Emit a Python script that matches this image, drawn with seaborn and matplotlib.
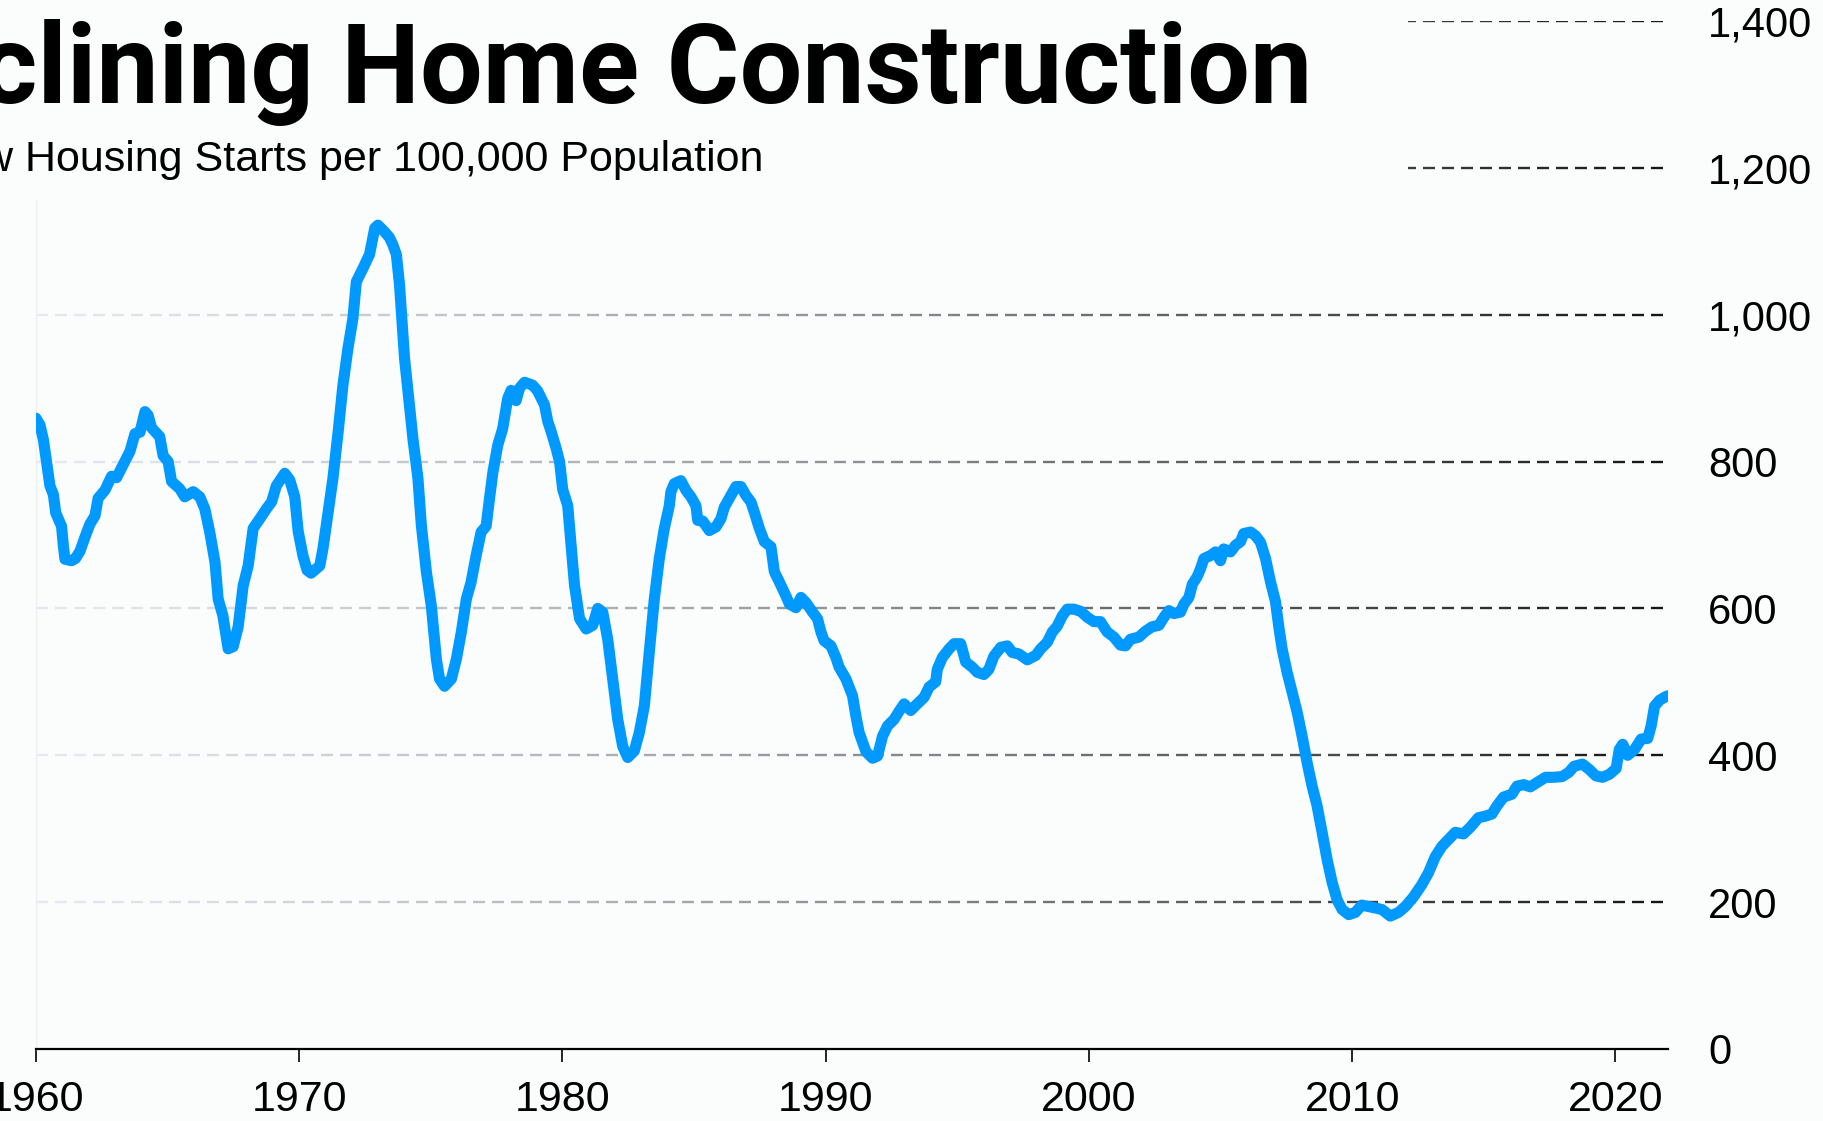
import numpy as np
import pandas as pd
import matplotlib
matplotlib.use("Agg")
import matplotlib.pyplot as plt
from matplotlib.collections import LineCollection
from matplotlib.patches import Rectangle
from matplotlib.ticker import StrMethodFormatter
import matplotlib.colors as mcolors
import seaborn as sns

# housing starts per 100k population
years = [
    1960.00, 1960.15, 1960.28, 1960.40, 1960.53, 1960.66, 1960.75, 1960.97, 1961.04, 1961.10,
    1961.35, 1961.50, 1961.67, 1961.86, 1962.05, 1962.24, 1962.36, 1962.62, 1962.87, 1963.06,
    1963.30, 1963.57, 1963.76, 1963.95, 1964.14, 1964.26, 1964.39, 1964.70, 1964.83, 1965.02,
    1965.15, 1965.46, 1965.65, 1965.97, 1966.22, 1966.41, 1966.60, 1966.80, 1966.92, 1967.10,
    1967.30, 1967.49, 1967.68, 1967.87, 1968.06, 1968.25, 1968.50, 1968.76, 1968.95, 1969.13,
    1969.45, 1969.64, 1969.83, 1969.96, 1970.14, 1970.30, 1970.45, 1970.78, 1970.90, 1971.10,
    1971.28, 1971.48, 1971.66, 1971.85, 1972.04, 1972.17, 1972.42, 1972.67, 1972.87, 1972.99,
    1973.24, 1973.43, 1973.56, 1973.69, 1973.81, 1974.00, 1974.13, 1974.32, 1974.51, 1974.64,
    1974.83, 1975.02, 1975.21, 1975.33, 1975.52, 1975.78, 1975.97, 1976.16, 1976.35, 1976.53,
    1976.72, 1976.91, 1977.10, 1977.23, 1977.36, 1977.54, 1977.73, 1977.92, 1978.05, 1978.24,
    1978.37, 1978.56, 1978.87, 1979.06, 1979.32, 1979.44, 1979.57, 1979.76, 1979.89, 1980.01,
    1980.20, 1980.33, 1980.46, 1980.65, 1980.90, 1981.15, 1981.34, 1981.53, 1981.72, 1981.91,
    1982.10, 1982.29, 1982.48, 1982.73, 1982.92, 1983.11, 1983.30, 1983.49, 1983.68, 1983.87,
    1984.06, 1984.12, 1984.25, 1984.50, 1984.69, 1984.88, 1985.07, 1985.14, 1985.33, 1985.58,
    1985.83, 1986.02, 1986.15, 1986.34, 1986.59, 1986.78, 1986.97, 1987.16, 1987.29, 1987.48,
    1987.67, 1987.92, 1988.05, 1988.24, 1988.49, 1988.62, 1988.87, 1989.06, 1989.25, 1989.50,
    1989.69, 1989.82, 1989.94, 1990.20, 1990.39, 1990.51, 1990.77, 1991.02, 1991.15, 1991.27,
    1991.53, 1991.78, 1991.97, 1992.16, 1992.35, 1992.60, 1992.79, 1992.98, 1993.23, 1993.48,
    1993.74, 1993.93, 1994.18, 1994.24, 1994.43, 1994.69, 1994.88, 1995.13, 1995.32, 1995.57,
    1995.76, 1996.01, 1996.20, 1996.39, 1996.65, 1996.90, 1997.09, 1997.34, 1997.66, 1997.98,
    1998.17, 1998.42, 1998.61, 1998.80, 1998.99, 1999.18, 1999.43, 1999.69, 1999.94, 2000.19,
    2000.44, 2000.69, 2000.95, 2001.20, 2001.39, 2001.58, 2001.90, 2002.15, 2002.40, 2002.66,
    2002.85, 2003.04, 2003.23, 2003.48, 2003.61, 2003.80, 2003.93, 2004.11, 2004.24, 2004.37,
    2004.62, 2004.81, 2005.00, 2005.12, 2005.38, 2005.57, 2005.76, 2005.88, 2006.14, 2006.33,
    2006.52, 2006.71, 2006.90, 2007.09, 2007.21, 2007.34, 2007.53, 2007.72, 2007.91, 2008.10,
    2008.29, 2008.48, 2008.67, 2008.86, 2009.05, 2009.24, 2009.43, 2009.62, 2009.87, 2010.12,
    2010.37, 2010.75, 2011.13, 2011.45, 2011.76, 2012.02, 2012.33, 2012.65, 2012.90, 2013.16,
    2013.41, 2013.73, 2013.92, 2014.23, 2014.49, 2014.80, 2015.05, 2015.31, 2015.50, 2015.75,
    2016.07, 2016.26, 2016.52, 2016.77, 2017.03, 2017.35, 2017.66, 2017.98, 2018.24, 2018.43,
    2018.75, 2019.00, 2019.26, 2019.51, 2019.77, 2020.03, 2020.15, 2020.28, 2020.47, 2020.73,
    2020.98, 2021.23, 2021.36, 2021.49, 2021.68, 2021.87, 2021.99,
]
starts = [
    859, 850, 830, 800, 767, 755, 730, 712, 685, 667,
    665, 668, 678, 697, 715, 726, 750, 761, 780, 778,
    795, 814, 838, 840, 868, 863, 846, 834, 808, 800,
    773, 763, 752, 759, 752, 736, 704, 663, 613, 590,
    545, 548, 575, 631, 658, 709, 722, 736, 745, 767,
    784, 775, 752, 705, 672, 652, 648, 658, 681, 731,
    777, 841, 904, 954, 995, 1045, 1063, 1082, 1118, 1122,
    1113, 1105, 1095, 1082, 1041, 941, 896, 831, 777, 713,
    650, 603, 531, 504, 494, 504, 531, 568, 613, 636,
    672, 704, 712, 750, 786, 822, 845, 886, 897, 883,
    900, 908, 904, 896, 877, 855, 841, 818, 800, 762,
    740, 685, 631, 586, 572, 577, 600, 595, 558, 504,
    449, 412, 397, 406, 431, 467, 541, 613, 668, 709,
    740, 759, 770, 774, 761, 752, 740, 720, 719, 706,
    711, 722, 738, 750, 766, 766, 754, 745, 731, 709,
    691, 684, 650, 636, 617, 606, 601, 615, 608, 595,
    586, 568, 556, 549, 533, 520, 504, 481, 453, 431,
    405, 396, 399, 426, 440, 449, 460, 470, 461, 470,
    479, 493, 500, 517, 533, 545, 552, 552, 527, 520,
    513, 510, 517, 535, 547, 549, 540, 538, 530, 536,
    545, 554, 568, 576, 590, 599, 599, 596, 588, 582,
    582, 568, 561, 550, 549, 558, 561, 569, 575, 577,
    588, 597, 593, 595, 606, 615, 633, 643, 654, 668,
    672, 677, 665, 681, 677, 686, 691, 702, 704, 699,
    690, 668, 636, 609, 576, 545, 513, 486, 459, 426,
    390, 358, 331, 295, 258, 227, 203, 190, 183, 186,
    196, 193, 190, 181, 186, 194, 207, 224, 240, 262,
    276, 288, 295, 293, 302, 315, 317, 320, 331, 343,
    347, 358, 360, 357, 363, 370, 370, 371, 377, 385,
    388, 381, 372, 370, 374, 382, 408, 415, 400, 408,
    422, 423, 440, 467, 475, 479, 481,
]

x_ticks = [1960, 1970, 1980, 1990, 2000, 2010, 2020]
y_ticks = [0, 200, 400, 600, 800, 1000, 1200, 1400]
grid_levels = [200, 400, 600, 800, 1000, 1200, 1400]

title = "Declining Home Construction"
subtitle = "New Housing Starts per 100,000 Population"

BG = "#fbfcfc"
LINE = "#0099ff"

sns.set_theme(style="white")
plt.rcParams["font.family"] = ["Liberation Sans", "DejaVu Sans"]
plt.rcParams["text.color"] = "black"

W, H = 1824, 1121
fig = plt.figure(figsize=(W / 100, H / 100), dpi=100, facecolor=BG)
ax = fig.add_axes([36 / W, 1 - 1049 / H, (1668 - 36) / W, (1049 - 21) / H])
ax.set_facecolor(BG)

df = pd.DataFrame({"year": years, "starts": starts})
sns.lineplot(data=df, x="year", y="starts", ax=ax, color=LINE, linewidth=8,
             estimator=None, zorder=3)
for ln in ax.get_lines():
    ln.set_solid_capstyle("round")
    ln.set_solid_joinstyle("round")

ax.set_xlim(1960, 2022)
ax.set_ylim(0, 1400)
ax.set_xlabel("")
ax.set_ylabel("")

# dashed grid that fades in from left to right
period, dash = 19 / 1632, 12 / 1632
starts_x = np.arange(0, 1, period)
ends_x = np.minimum(starts_x + dash, 1)
mid = (starts_x + ends_x) / 2
c0 = np.array(mcolors.to_rgb("#e4eaf0"))
c1 = np.array(mcolors.to_rgb("#141414"))
w = mid[:, None] ** 1.25
cols = c0 * (1 - w) + c1 * w
for lvl in grid_levels:
    segs = [[(a, lvl), (b, lvl)] for a, b in zip(starts_x, ends_x)]
    lc = LineCollection(segs, colors=cols, linewidths=1.7,
                        transform=ax.get_yaxis_transform(), zorder=1)
    ax.add_collection(lc)

ax.set_xticks(x_ticks)
ax.set_yticks(y_ticks)
ax.yaxis.set_major_formatter(StrMethodFormatter("{x:,.0f}"))
ax.yaxis.tick_right()
ax.tick_params(axis="y", length=0, pad=29, labelsize=30, labelcolor="black")
ax.tick_params(axis="x", bottom=True, length=9, width=1.2, color="black",
               pad=13, labelsize=31, labelcolor="black")

for side in ["top", "right"]:
    ax.spines[side].set_visible(False)
ax.spines["bottom"].set_color("black")
ax.spines["bottom"].set_linewidth(1.6)
ax.spines["left"].set_color("#eef1f4")
ax.spines["left"].set_linewidth(1)

# header block covers the top of the grid
fig.add_artist(Rectangle((0, 1 - 200 / H), 1408 / W, 200 / H, transform=fig.transFigure,
                         facecolor=BG, edgecolor="none", zorder=1))
fig.text(1312 / W, 1 - 103 / H, title, ha="right", va="baseline", color="black",
         fontsize=80, fontweight="bold", family=["Roboto", "DejaVu Sans"], zorder=3)
fig.text(763 / W, 1 - 171 / H, subtitle, ha="right", va="baseline", color="black",
         fontsize=31, zorder=3)

fig.savefig("out.png", dpi=100, facecolor=BG)
